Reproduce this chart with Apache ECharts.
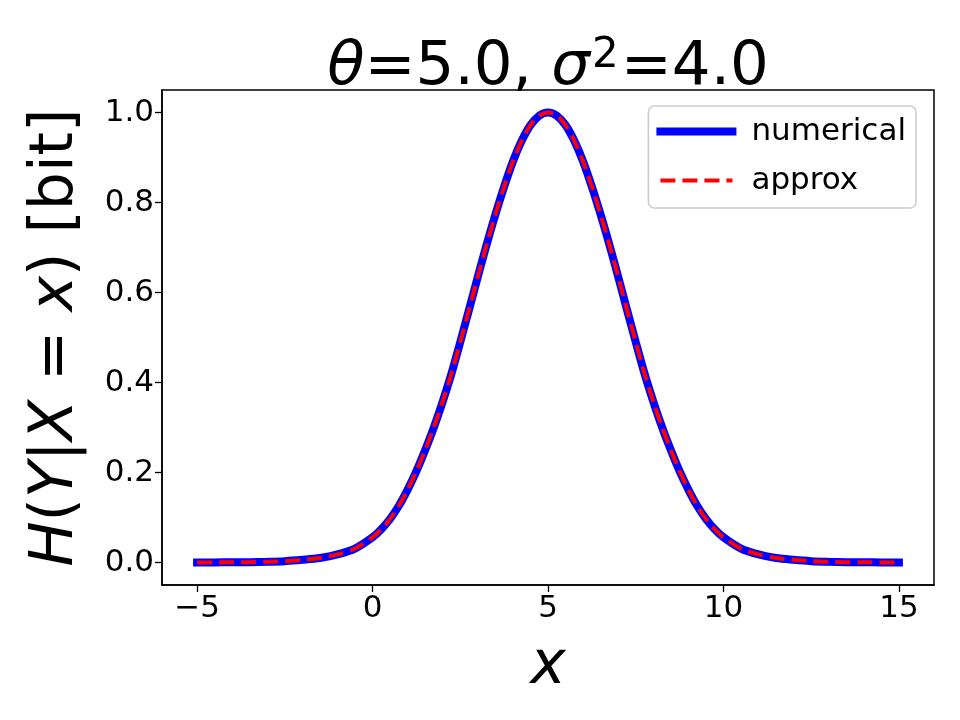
<!DOCTYPE html>
<html lang="en">
  <head>
    <meta charset="utf-8" />
    <title>H(Y|X=x)</title>
    <style>
      * {
        margin: 0;
        padding: 0;
      }
      #chart-container {
        position: relative;
        height: 720px;
        width: 960px;
        overflow: hidden;
        background: #fff;
      }
    </style>
  </head>
  <body>
    <div id="chart-container"></div>
    <script src="https://cdn.jsdelivr.net/npm/echarts@6/dist/echarts.min.js"></script>
    <script>
      // values
      const xValues = [
        -5, -4.5, -4, -3.5, -3, -2.5, -2, -1.5, -1, -0.5, 0, 0.25, 0.5, 0.75, 1, 1.25, 1.5, 1.75,
        2, 2.25, 2.5, 2.75, 3, 3.25, 3.5, 3.75, 4, 4.25, 4.5, 4.75, 5, 5.25, 5.5, 5.75, 6, 6.25,
        6.5, 6.75, 7, 7.25, 7.5, 7.75, 8, 8.25, 8.5, 8.75, 9, 9.25, 9.5, 9.75, 10, 10.5, 11, 11.5,
        12, 12.5, 13, 13.5, 14, 14.5, 15,
      ];
      const numerical = [
        0.0001, 0.0002, 0.0004, 0.0008, 0.0015, 0.003, 0.006, 0.01, 0.018, 0.031, 0.056, 0.074,
        0.097, 0.126, 0.162, 0.203, 0.25, 0.301, 0.358, 0.42, 0.49, 0.562, 0.635, 0.706, 0.773,
        0.835, 0.891, 0.937, 0.972, 0.993, 1.0, 0.993, 0.972, 0.937, 0.891, 0.835, 0.773, 0.706,
        0.635, 0.562, 0.49, 0.42, 0.358, 0.301, 0.25, 0.203, 0.162, 0.126, 0.097, 0.074, 0.056,
        0.031, 0.018, 0.01, 0.006, 0.003, 0.0015, 0.0008, 0.0004, 0.0002, 0.0001,
      ];
      const approx = [
        0.0001, 0.0002, 0.0004, 0.0008, 0.0015, 0.003, 0.006, 0.01, 0.018, 0.031, 0.056, 0.074,
        0.097, 0.126, 0.162, 0.203, 0.25, 0.301, 0.358, 0.42, 0.49, 0.562, 0.635, 0.706, 0.773,
        0.835, 0.891, 0.937, 0.972, 0.993, 1.0, 0.993, 0.972, 0.937, 0.891, 0.835, 0.773, 0.706,
        0.635, 0.562, 0.49, 0.42, 0.358, 0.301, 0.25, 0.203, 0.162, 0.126, 0.097, 0.074, 0.056,
        0.031, 0.018, 0.01, 0.006, 0.003, 0.0015, 0.0008, 0.0004, 0.0002, 0.0001,
      ];
      const xTicks = [-5, 0, 5, 10, 15];
      const yTicks = [0, 0.2, 0.4, 0.6, 0.8, 1.0];

      const font = "DejaVu Sans";
      const pair = (ys) => xValues.map((x, i) => [x, ys[i]]);

      var dom = document.getElementById("chart-container");
      var myChart = echarts.init(dom, null, { renderer: "canvas" });

      var option = {
        animation: false,
        backgroundColor: "#fff",
        textStyle: { fontFamily: font, color: "#000" },
        title: {
          text: "{i|θ}=5.0, {i|σ}{sup|2}=4.0",
          left: 543,
          top: 30,
          textAlign: "center",
          textStyle: {
            fontFamily: font,
            fontSize: 61,
            fontWeight: "normal",
            color: "#000",
            rich: {
              i: { fontFamily: font, fontSize: 61, fontStyle: "italic", color: "#000" },
              sup: { fontFamily: font, fontSize: 42, color: "#000", padding: [0, 2, 24, 2] },
            },
          },
        },
        legend: {
          orient: "vertical",
          right: 44,
          top: 106,
          padding: [10, 10, 12, 8],
          itemGap: 18,
          itemWidth: 72,
          itemHeight: 30,
          borderColor: "#ccc",
          borderWidth: 1.5,
          borderRadius: 6,
          backgroundColor: "rgba(255,255,255,0.8)",
          itemStyle: { color: "rgba(0,0,0,0)", borderWidth: 0, opacity: 0 },
          textStyle: { fontFamily: font, fontSize: 31, color: "#000", padding: [0, 0, 0, 14] },
          data: [
            { name: "numerical", lineStyle: { width: 8, color: "#0000ff" } },
            { name: "approx", lineStyle: { width: 4, color: "#ff0000", type: [15, 7] } },
          ],
        },
        grid: {
          left: 162,
          right: 26,
          top: 90,
          bottom: 135,
          show: true,
          borderColor: "#000",
          borderWidth: 1.5,
          containLabel: false,
          outerBoundsMode: "none",
        },
        xAxis: {
          type: "value",
          min: -6,
          max: 16,
          name: "x",
          nameLocation: "middle",
          nameGap: 52,
          nameTextStyle: { fontFamily: font, fontSize: 60, fontStyle: "italic", color: "#000" },
          axisLine: { show: true, onZero: false, lineStyle: { color: "#000", width: 1.5 } },
          axisTick: {
            show: true,
            length: 7,
            customValues: xTicks,
            lineStyle: { color: "#000", width: 1.3 },
          },
          axisLabel: {
            customValues: xTicks,
            fontFamily: font,
            fontSize: 31,
            color: "#000",
            margin: 8,
            formatter: (v) => String(v).replace("-", "\u2212"),
          },
          splitLine: { show: false },
        },
        yAxis: {
          type: "value",
          min: -0.05,
          max: 1.05,
          name: "{i|H}({i|Y}|{i|X} = {i|x}) [bit]",
          nameLocation: "middle",
          nameRotate: 90,
          nameGap: 76,
          nameTextStyle: {
            fontFamily: font,
            fontSize: 60,
            color: "#000",
            rich: {
              i: { fontFamily: font, fontSize: 60, fontStyle: "italic", color: "#000" },
            },
          },
          axisLine: { show: true, onZero: false, lineStyle: { color: "#000", width: 1.5 } },
          axisTick: {
            show: true,
            length: 7,
            customValues: yTicks,
            lineStyle: { color: "#000", width: 1.3 },
          },
          axisLabel: {
            customValues: yTicks,
            fontFamily: font,
            fontSize: 31,
            color: "#000",
            margin: 8,
            formatter: (v) => v.toFixed(1),
          },
          splitLine: { show: false },
        },
        series: [
          {
            name: "numerical",
            type: "line",
            data: pair(numerical),
            smooth: 0.3,
            symbol: "none",
            lineStyle: { color: "#0000ff", width: 8, cap: "square" },
            itemStyle: { color: "#0000ff" },
            z: 2,
          },
          {
            name: "approx",
            type: "line",
            data: pair(approx),
            smooth: 0.3,
            symbol: "none",
            lineStyle: { color: "#ff0000", width: 4, type: [15, 7] },
            itemStyle: { color: "#ff0000" },
            z: 3,
          },
        ],
      };

      myChart.setOption(option);
      window.addEventListener("resize", myChart.resize);
    </script>
  </body>
</html>
